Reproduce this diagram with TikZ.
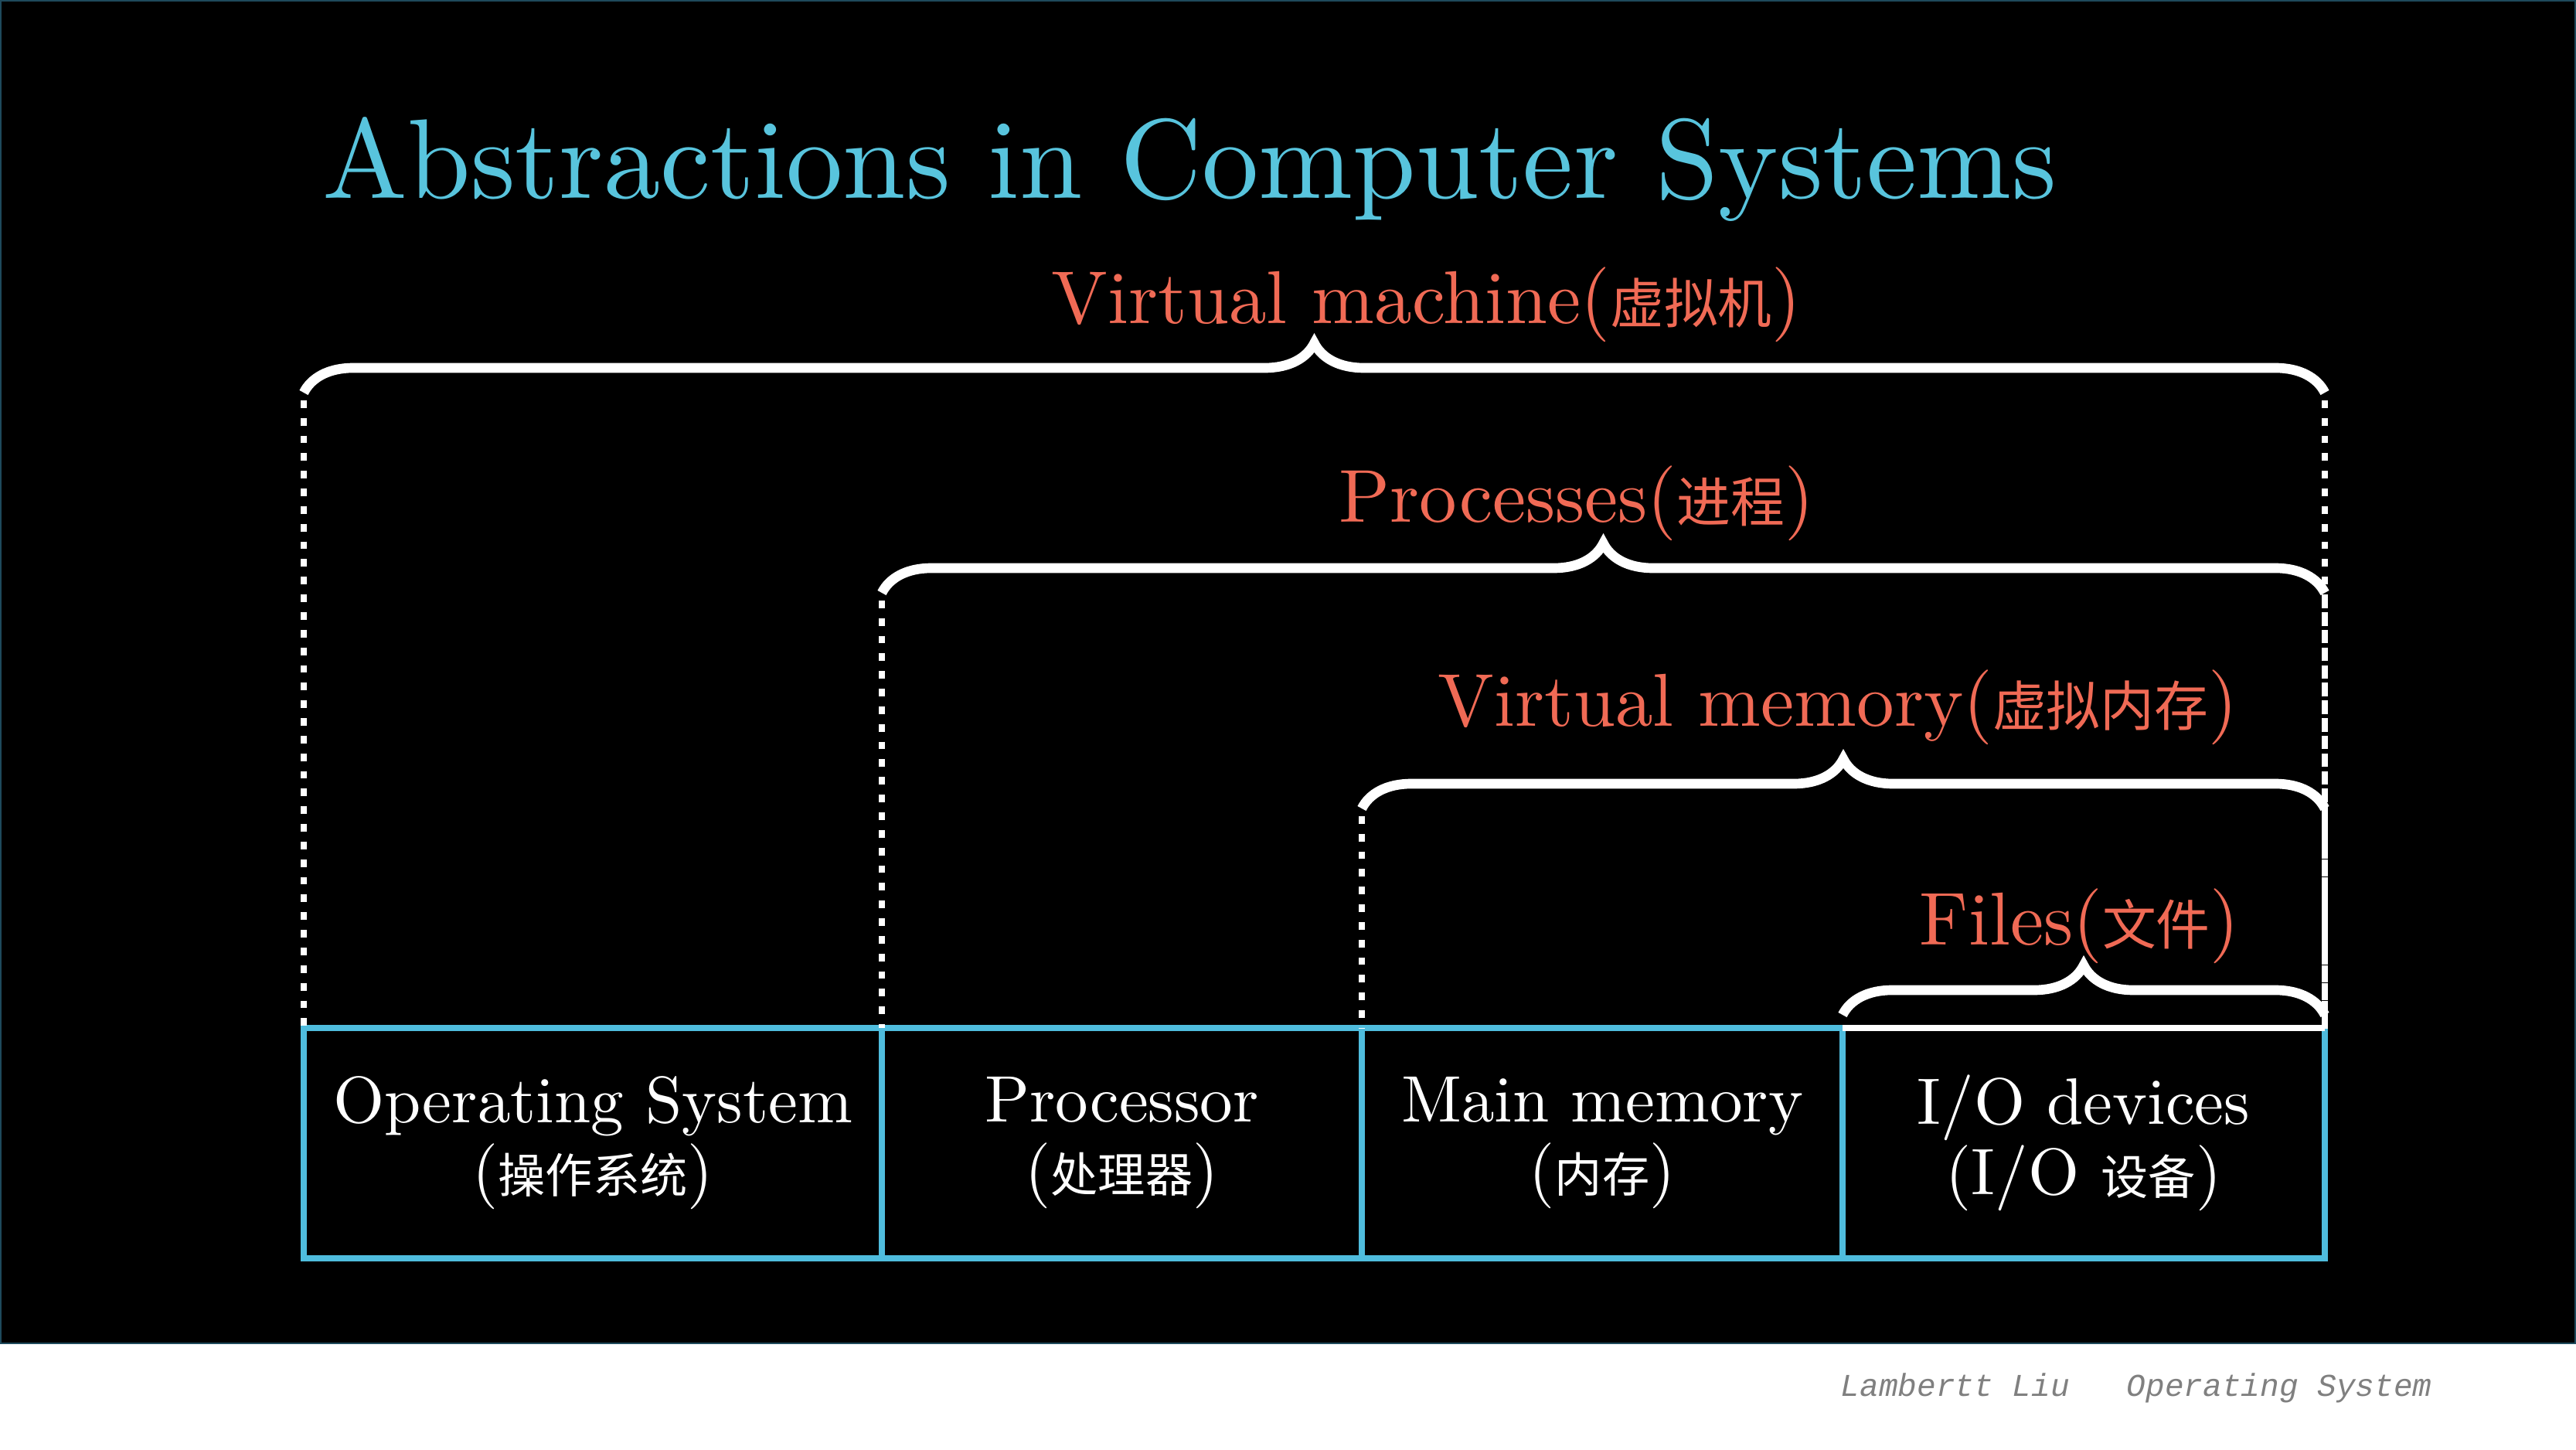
\documentclass[tikz,border=0pt]{standalone}
\usepackage{fontspec}
\setmainfont{lmroman10-regular.otf}
\newfontfamily\cjk{Noto Sans CJK SC}[Scale=0.72]
\newfontfamily\footfont{Liberation Mono}
\usetikzlibrary{decorations.pathreplacing}
\definecolor{titleblue}{HTML}{58C4DD}
\definecolor{cellblue}{HTML}{4FBCDD}
\definecolor{labelred}{HTML}{F06A55}
\definecolor{edgeteal}{HTML}{1E4A5C}
\definecolor{footgray}{HTML}{808080}
\tikzset{
  cell/.style={draw=cellblue, line width=2.3pt, anchor=south west, outer sep=0pt, inner sep=0pt,
    minimum height=2.98cm, text=white, align=center, font=\fontsize{24.2}{25.9}\selectfont},
  layer/.style={text=labelred, anchor=base west, inner sep=0pt, font=\fontsize{27.6}{30}\selectfont},
  curly/.style={white, line width=3.6pt, decorate, decoration={brace, amplitude=0.64cm}},
  dotline/.style={white, line width=2.3pt, dash pattern=on 2.8pt off 3.7pt, dash phase=3.7pt},
}
\begin{document}
\begin{tikzpicture}
  \useasboundingbox (0,0) rectangle (33.33,18.75);
  \fill[white] (0,0) rectangle (33.33,18.75);
  \filldraw[fill=black, draw=edgeteal, line width=0.6pt] (0.01,1.37) rectangle (33.32,18.74);
  % title
  \node[text=titleblue, anchor=base west, inner sep=0pt, font=\fontsize{41.7}{44}\selectfont] (title) at (4.17,16.18) {Abstractions in Computer Systems};
  % bottom row
  \node[cell, minimum width=7.48cm] (os) at (3.93,2.47) {Operating System\\({\cjk 操作系统})};
  \node[cell, minimum width=6.21cm] (cpu) at (os.south east) {Processor\\({\cjk 处理器})};
  \node[cell, minimum width=6.22cm] (mem) at (cpu.south east) {Main memory\\({\cjk 内存})};
  \node[cell, minimum width=6.24cm] (io) at (mem.south east) {I/O devices\\(I/O {\cjk 设备})};
  \draw[white, line width=2.3pt] (io.north west) -- (io.north east);
  % brace ends
  \coordinate (vm-l) at ([yshift=8.22cm]os.north west);
  \coordinate (vm-r) at ([yshift=8.22cm]io.north east);
  \coordinate (pr-l) at ([yshift=5.63cm]cpu.north west);
  \coordinate (pr-r) at ([yshift=5.63cm]io.north east);
  \coordinate (vmem-l) at ([yshift=2.84cm]mem.north west);
  \coordinate (vmem-r) at ([yshift=2.84cm]io.north east);
  \coordinate (fs-l) at ([yshift=0.17cm]io.north west);
  \coordinate (fs-r) at ([yshift=0.17cm]io.north east);
  % dotted drops
  \draw[dotline] (vm-l) -- (os.north west);
  \draw[dotline] (vm-r) -- (io.north east);
  \draw[dotline] (pr-l) -- (cpu.north west);
  \draw[dotline] (pr-r) -- (io.north east);
  \draw[dotline] (vmem-l) -- (mem.north west);
  \draw[dotline] (vmem-r) -- (io.north east);
  % braces
  \draw[curly] (vm-l) -- (vm-r);
  \draw[curly] (pr-l) -- (pr-r);
  \draw[curly] (vmem-l) -- (vmem-r);
  \draw[curly] (fs-l) -- (fs-r);
  % labels
  \node[layer] (vmtext) at (13.60,14.56) {Virtual machine({\cjk 虚拟机})};
  \node[layer] (prtext) at (17.32,11.99) {Processes({\cjk 进程})};
  \node[layer] (vmemtext) at (18.60,9.35) {Virtual memory({\cjk 虚拟内存})};
  \node[layer] (fstext) at (24.83,6.53) {Files({\cjk 文件})};
  % footer
  \node[text=footgray, anchor=base west, inner sep=0pt, font=\footfont\itshape\fontsize{11.7}{14}\selectfont] (credit) at (23.81,0.69) {Lambertt Liu\ \ \ Operating System};
\end{tikzpicture}
\end{document}
